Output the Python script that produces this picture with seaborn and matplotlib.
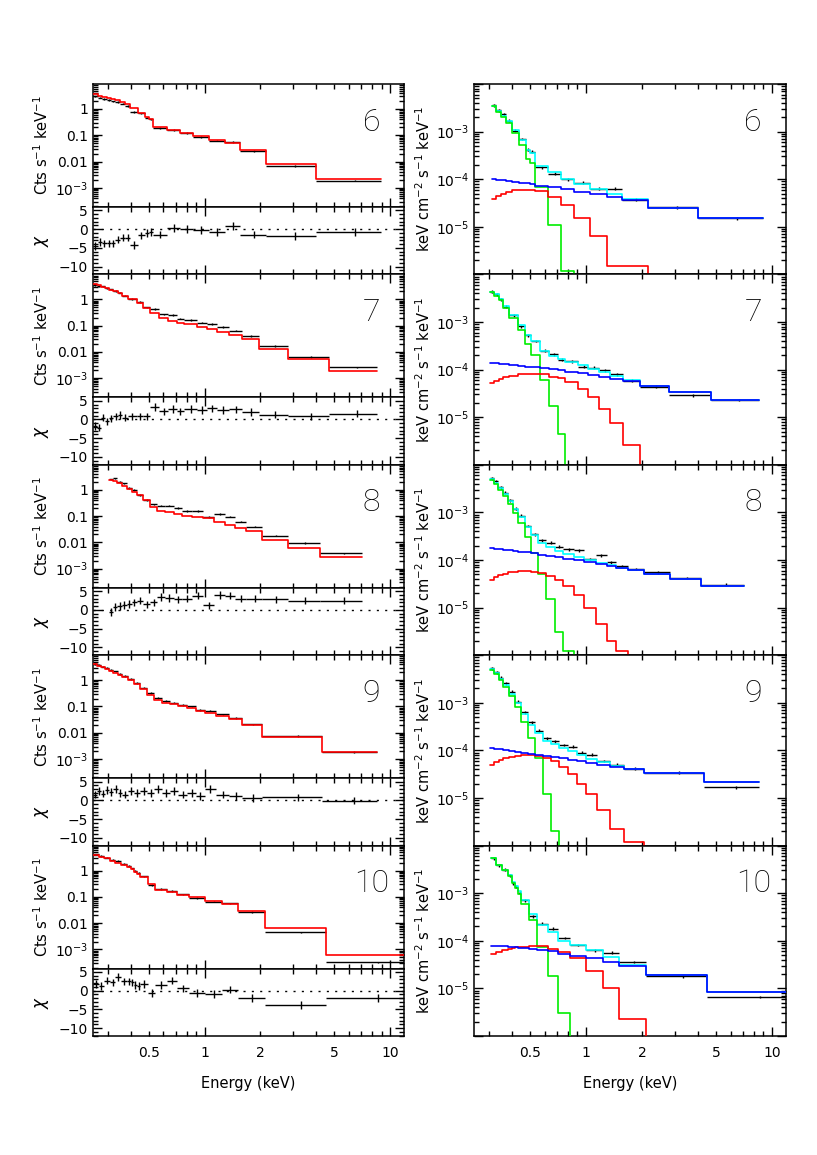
import numpy as np
import matplotlib
matplotlib.use("Agg")
import matplotlib.pyplot as plt
import seaborn as sns
from matplotlib.ticker import FixedLocator, FuncFormatter, NullFormatter, MultipleLocator

sns.set_theme(style="ticks")
plt.rcParams['font.family'] = ['DejaVu Sans']
plt.rcParams['mathtext.fontset'] = 'dejavusans'
plt.rcParams.update({'text.color': 'black', 'axes.labelcolor': 'black',
                     'xtick.color': 'black', 'ytick.color': 'black',
                     'axes.edgecolor': 'black'})

# ---------------- panel 6 ----------------
edges_6 = [0.25, 0.265, 0.28, 0.296, 0.312, 0.33, 0.35, 0.372, 0.398, 0.436, 0.474, 0.50,
           0.53, 0.626, 0.733, 0.866, 1.05, 1.29, 1.56, 2.15, 4.01, 8.9]
cts_6 = [3.0, 2.7, 2.4, 2.2, 1.95, 1.8, 1.6, 1.3, 0.78, 0.68, 0.47, 0.4, 0.19, 0.16, 0.12,
         0.088, 0.063, 0.057, 0.025, 0.0068, 0.0019]
mod_6 = [3.6, 3.2, 2.9, 2.6, 2.3, 2.1, 1.85, 1.5, 1.07, 0.73, 0.5, 0.42, 0.21, 0.16, 0.12,
         0.09, 0.067, 0.053, 0.028, 0.0079, 0.0022]
chi_6 = [-4.5, -3.5, -3.8, -3.8, -3.8, -2.8, -2.3, -2.3, -4.3, -1.7, -1.0, -0.8, -1.5, 0.3,
         0.0, -0.2, -0.8, 0.8, -1.5, -1.8, -0.8]
uf_start_6 = 4
uf_6 = [3.6e-3, 2.8e-3, 2.3e-3, 1.7e-3, 1.05e-3, 7.0e-4, 4.2e-4, 3.8e-4, 1.8e-4, 1.3e-4,
        1.0e-4, 8.5e-5, 6.3e-5, 6.3e-5, 3.7e-5, 2.6e-5, 1.5e-5]
tot_6 = [3.5e-3, 2.75e-3, 2.15e-3, 1.65e-3, 1.07e-3, 6.6e-4, 4.2e-4, 3.6e-4, 1.9e-4, 1.4e-4,
         1.0e-4, 8.1e-5, 6.3e-5, 4.8e-5, 3.8e-5, 2.5e-5, 1.5e-5]
bb_6 = [3.4e-3, 2.6e-3, 2.0e-3, 1.5e-3, 9.2e-4, 5.2e-4, 2.6e-4, 2.2e-4, 6.8e-5, 1.07e-5,
        1.2e-6, 1e-9, 1e-9, 1e-9, 1e-9, 1e-9, 1e-9]
red_6 = [3.9e-5, 4.4e-5, 4.9e-5, 5.4e-5, 5.8e-5, 6.0e-5, 6.0e-5, 5.9e-5, 5.7e-5, 4.2e-5,
         2.9e-5, 1.5e-5, 6.4e-6, 1.5e-6, 1.5e-6, 1e-9, 1e-9]
pl_6 = [9.9e-5, 9.7e-5, 9.5e-5, 9.2e-5, 8.9e-5, 8.5e-5, 8.2e-5, 7.9e-5, 7.3e-5, 6.9e-5,
        6.2e-5, 5.5e-5, 4.8e-5, 4.3e-5, 3.7e-5, 2.5e-5, 1.5e-5]

# ---------------- panel 7 ----------------
edges_7 = [0.25, 0.262, 0.276, 0.29, 0.305, 0.322, 0.34, 0.36, 0.385, 0.431, 0.468, 0.509,
           0.569, 0.634, 0.71, 0.77, 0.91, 1.03, 1.17, 1.35, 1.59, 1.96, 2.81, 4.68, 8.54]
cts_7 = [3.6, 3.2, 3.1, 2.6, 2.4, 2.1, 1.8, 1.4, 1.05, 0.8, 0.5, 0.42, 0.27, 0.25, 0.185,
         0.166, 0.13, 0.116, 0.087, 0.065, 0.04, 0.0165, 0.0063, 0.0026]
mod_7 = [3.8, 3.4, 3.05, 2.7, 2.35, 2.0, 1.7, 1.35, 1.0, 0.74, 0.46, 0.30, 0.19, 0.15, 0.13,
         0.12, 0.092, 0.077, 0.059, 0.045, 0.031, 0.0126, 0.0054, 0.0019]
chi_7 = [-1.8, -2.2, 0.5, -0.5, 0.3, 0.8, 1.2, 0.5, 0.8, 0.8, 0.8, 3.3, 2.2, 2.8, 2.2, 2.8,
         2.5, 3.0, 2.6, 2.7, 2.0, 1.3, 0.8, 1.6]
uf_start_7 = 4
uf_7 = [4.3e-3, 3.8e-3, 3.0e-3, 2.1e-3, 1.4e-3, 8.2e-4, 5.3e-4, 4.0e-4, 2.5e-4, 2.1e-4,
        1.6e-4, 1.5e-4, 1.15e-4, 1.1e-4, 9.7e-5, 8.0e-5, 5.8e-5, 4.4e-5, 2.9e-5, 2.3e-5]
tot_7 = [4.3e-3, 3.8e-3, 3.0e-3, 2.2e-3, 1.4e-3, 8.7e-4, 5.4e-4, 3.9e-4, 2.5e-4, 1.9e-4,
         1.7e-4, 1.45e-4, 1.25e-4, 1.05e-4, 8.8e-5, 7.5e-5, 6.0e-5, 4.5e-5, 3.4e-5, 2.3e-5]
bb_7 = [4.2e-3, 3.6e-3, 2.9e-3, 2.0e-3, 1.2e-3, 6.7e-4, 3.5e-4, 2.0e-4, 6.0e-5, 1.7e-5,
        4.4e-6, 1e-9, 1e-9, 1e-9, 1e-9, 1e-9, 1e-9, 1e-9, 1e-9, 1e-9]
red_7 = [5.2e-5, 5.8e-5, 6.4e-5, 7.0e-5, 7.5e-5, 7.9e-5, 8.0e-5, 7.9e-5, 7.9e-5, 7.1e-5,
         6.8e-5, 5.5e-5, 4.0e-5, 2.7e-5, 1.5e-5, 7.4e-6, 2.6e-6, 1e-9, 1e-9, 1e-9]
pl_7 = [1.38e-4, 1.35e-4, 1.32e-4, 1.28e-4, 1.22e-4, 1.18e-4, 1.15e-4, 1.12e-4, 1.08e-4,
        1.03e-4, 1.0e-4, 8.8e-5, 8.3e-5, 7.6e-5, 7.1e-5, 6.5e-5, 5.8e-5, 4.5e-5, 3.4e-5, 2.3e-5]

# ---------------- panel 8 ----------------
edges_8 = [0.306, 0.32, 0.338, 0.358, 0.38, 0.405, 0.431, 0.468, 0.509, 0.553, 0.613, 0.68,
           0.755, 0.86, 0.98, 1.13, 1.29, 1.45, 1.68, 2.04, 2.82, 4.17, 7.1]
cts_8 = [2.5, 2.7, 2.0, 1.75, 1.15, 0.98, 0.63, 0.41, 0.28, 0.25, 0.25, 0.2, 0.16, 0.16,
         0.09, 0.12, 0.095, 0.062, 0.04, 0.018, 0.0093, 0.0038]
mod_8 = [2.35, 2.1, 1.75, 1.4, 1.05, 0.85, 0.62, 0.40, 0.23, 0.16, 0.14, 0.125, 0.105, 0.095,
         0.083, 0.058, 0.046, 0.036, 0.026, 0.0124, 0.0060, 0.0027]
chi_8 = [-0.5, 0.8, 1.0, 1.3, 1.6, 2.0, 2.5, 1.5, 2.0, 3.5, 3.2, 2.8, 3.0, 3.8, 1.2, 4.0,
         3.8, 3.0, 3.0, 2.8, 2.5, 2.5]
uf_start_8 = 0
uf_8 = [5.2e-3, 4.5e-3, 3.4e-3, 2.6e-3, 1.8e-3, 1.2e-3, 8.5e-4, 5.2e-4, 3.5e-4, 2.6e-4,
        2.3e-4, 1.9e-4, 1.7e-4, 1.6e-4, 1.05e-4, 1.25e-4, 9.0e-5, 7.5e-5, 6.5e-5, 5.5e-5,
        4.2e-5, 3.0e-5]
tot_8 = [5.0e-3, 4.2e-3, 3.2e-3, 2.4e-3, 1.7e-3, 1.16e-3, 8.1e-4, 5.0e-4, 3.4e-4, 2.3e-4,
         1.85e-4, 1.55e-4, 1.35e-4, 1.15e-4, 1.0e-4, 8.7e-5, 7.7e-5, 6.9e-5, 6.2e-5, 5.2e-5,
         4.0e-5, 2.9e-5]
bb_8 = [4.8e-3, 4.0e-3, 3.0e-3, 2.2e-3, 1.5e-3, 9.5e-4, 6.0e-4, 3.0e-4, 1.4e-4, 5.0e-5,
        1.5e-5, 3e-6, 1.2e-6, 1e-9, 1e-9, 1e-9, 1e-9, 1e-9, 1e-9, 1e-9, 1e-9, 1e-9]
red_8 = [3.8e-5, 4.3e-5, 4.8e-5, 5.2e-5, 5.5e-5, 5.7e-5, 5.8e-5, 5.8e-5, 5.7e-5, 5.3e-5,
         4.6e-5, 3.8e-5, 2.8e-5, 1.8e-5, 1.0e-5, 4.5e-6, 2.0e-6, 1.2e-6, 1e-9, 1e-9, 1e-9, 1e-9]
pl_8 = [1.75e-4, 1.72e-4, 1.68e-4, 1.64e-4, 1.6e-4, 1.55e-4, 1.5e-4, 1.45e-4, 1.38e-4,
        1.3e-4, 1.22e-4, 1.15e-4, 1.07e-4, 9.8e-5, 9.0e-5, 8.2e-5, 7.5e-5, 6.8e-5, 6.2e-5,
        5.2e-5, 4.0e-5, 2.9e-5]

# ---------------- panel 9 ----------------
edges_9 = [0.25, 0.262, 0.276, 0.29, 0.305, 0.322, 0.34, 0.36, 0.385, 0.415, 0.45, 0.49,
           0.535, 0.59, 0.65, 0.72, 0.8, 0.9, 1.0, 1.15, 1.35, 1.6, 2.05, 4.3, 8.5]
cts_9 = [4.2, 3.8, 3.3, 3.0, 2.5, 2.15, 1.75, 1.45, 1.1, 0.78, 0.52, 0.32, 0.21, 0.16, 0.14,
         0.115, 0.10, 0.075, 0.07, 0.05, 0.036, 0.021, 0.0075, 0.0019]
mod_9 = [4.0, 3.5, 3.1, 2.7, 2.3, 1.95, 1.6, 1.3, 1.0, 0.7, 0.45, 0.27, 0.18, 0.14, 0.12,
         0.10, 0.085, 0.07, 0.058, 0.045, 0.033, 0.02, 0.0068, 0.0019]
chi_9 = [1.5, 2.5, 1.8, 2.8, 2.2, 3.0, 2.0, 1.5, 2.5, 2.0, 2.5, 2.0, 3.0, 2.0, 2.5, 1.5,
         2.0, 1.2, 3.0, 1.5, 1.2, 0.6, 0.8, -0.1]
uf_start_9 = 4
uf_9 = [5.3e-3, 4.4e-3, 3.4e-3, 2.6e-3, 1.7e-3, 1.05e-3, 6.3e-4, 3.9e-4, 2.6e-4, 1.8e-4,
        1.55e-4, 1.3e-4, 1.2e-4, 9e-5, 8.2e-5, 6.0e-5, 5.0e-5, 4.1e-5, 3.4e-5, 1.7e-5]
tot_9 = [5.2e-3, 4.2e-3, 3.2e-3, 2.4e-3, 1.55e-3, 9.7e-4, 5.7e-4, 3.5e-4, 2.3e-4, 1.6e-4,
         1.35e-4, 1.13e-4, 9.5e-5, 7.9e-5, 6.7e-5, 5.6e-5, 4.7e-5, 4.1e-5, 3.4e-5, 2.2e-5]
bb_9 = [5.0e-3, 4.0e-3, 3.0e-3, 2.2e-3, 1.4e-3, 8.0e-4, 4.0e-4, 1.8e-4, 7e-5, 1.2e-5,
        2.0e-6, 1e-9, 1e-9, 1e-9, 1e-9, 1e-9, 1e-9, 1e-9, 1e-9, 1e-9]
red_9 = [5.0e-5, 5.7e-5, 6.3e-5, 6.9e-5, 7.4e-5, 7.8e-5, 8.0e-5, 8.0e-5, 7.8e-5, 7.0e-5,
         6.0e-5, 4.5e-5, 3.2e-5, 2.0e-5, 1.2e-5, 5.5e-6, 2.2e-6, 1.2e-6, 1e-9, 1e-9]
pl_9 = [1.1e-4, 1.08e-4, 1.05e-4, 1.02e-4, 9.8e-5, 9.4e-5, 9.0e-5, 8.6e-5, 8.2e-5, 7.8e-5,
        7.3e-5, 6.8e-5, 6.3e-5, 5.9e-5, 5.5e-5, 5.0e-5, 4.5e-5, 4.0e-5, 3.4e-5, 2.2e-5]

# ---------------- panel 10 ----------------
edges_10 = [0.25, 0.268, 0.285, 0.31, 0.33, 0.355, 0.38, 0.40, 0.415, 0.43, 0.45, 0.495,
            0.543, 0.623, 0.711, 0.823, 1.0, 1.24, 1.51, 2.11, 4.5, 12.7]
cts_10 = [4.1, 3.5, 3.1, 2.6, 2.3, 1.8, 1.5, 1.2, 0.95, 0.8, 0.6, 0.29, 0.2, 0.165, 0.125,
          0.092, 0.066, 0.056, 0.026, 0.0045, 0.00032]
mod_10 = [3.9, 3.4, 2.9, 2.4, 2.0, 1.65, 1.35, 1.1, 0.9, 0.75, 0.55, 0.30, 0.19, 0.15, 0.12,
          0.095, 0.07, 0.055, 0.03, 0.0065, 0.00062]
chi_10 = [1.8, 1.3, 2.7, 2.2, 3.6, 2.5, 2.5, 2.2, 1.5, 1.3, 1.8, -0.6, 1.5, 2.7, 0.6, -0.6,
          -0.9, 0.3, -2.0, -3.8, -2.0]
uf_start_10 = 3
uf_10 = [5.4e-3, 3.9e-3, 3.1e-3, 2.4e-3, 1.6e-3, 1.36e-3, 1.02e-3, 7.1e-4, 3.3e-4, 2.3e-4,
         1.8e-4, 1.15e-4, 8.2e-5, 6.3e-5, 5.6e-5, 3.6e-5, 1.8e-5, 6.6e-6]
tot_10 = [5.5e-3, 4.0e-3, 3.1e-3, 2.45e-3, 1.75e-3, 1.45e-3, 1.1e-3, 7.2e-4, 3.6e-4, 2.2e-4,
          1.5e-4, 1.0e-4, 8.0e-5, 6.4e-5, 4.6e-5, 3.1e-5, 1.9e-5, 8.3e-6]
bb_10 = [5.4e-3, 3.9e-3, 3.0e-3, 2.3e-3, 1.6e-3, 1.3e-3, 9.5e-4, 6.0e-4, 2.7e-4, 7.4e-5,
         1.8e-5, 3.1e-6, 1e-9, 1e-9, 1e-9, 1e-9, 1e-9, 1e-9]
red_10 = [5.3e-5, 5.8e-5, 6.3e-5, 6.8e-5, 7.1e-5, 7.3e-5, 7.4e-5, 7.5e-5, 7.6e-5, 7.6e-5,
          6.6e-5, 5.9e-5, 4.3e-5, 2.3e-5, 1.0e-5, 2.3e-6, 1e-9, 1e-9]
pl_10 = [7.8e-5, 7.7e-5, 7.6e-5, 7.5e-5, 7.4e-5, 7.3e-5, 7.2e-5, 7.0e-5, 6.8e-5, 6.5e-5,
         6.1e-5, 5.4e-5, 4.8e-5, 4.3e-5, 3.6e-5, 2.9e-5, 1.9e-5, 8.3e-6]

panel_ids = [6, 7, 8, 9, 10]
all_edges = [edges_6, edges_7, edges_8, edges_9, edges_10]
all_cts = [cts_6, cts_7, cts_8, cts_9, cts_10]
all_mod = [mod_6, mod_7, mod_8, mod_9, mod_10]
all_chi = [chi_6, chi_7, chi_8, chi_9, chi_10]
all_start = [uf_start_6, uf_start_7, uf_start_8, uf_start_9, uf_start_10]
all_uf = [uf_6, uf_7, uf_8, uf_9, uf_10]
all_tot = [tot_6, tot_7, tot_8, tot_9, tot_10]
all_bb = [bb_6, bb_7, bb_8, bb_9, bb_10]
all_red = [red_6, red_7, red_8, red_9, red_10]
all_pl = [pl_6, pl_7, pl_8, pl_9, pl_10]

rel_err = 0.07   # size of the little vertical error bars on the spectra

W, H = 817, 1155
fig = plt.figure(figsize=(W / 100, H / 100), dpi=100)


def add_ax(x, y, w, h):
    return fig.add_axes([x / W, 1 - (y + h) / H, w / W, h / H])


def stairs(ax, edges, vals, color, lw=1.2, z=3):
    xs = list(edges)
    ys = list(vals) + [vals[-1]]
    sns.lineplot(x=xs, y=ys, drawstyle='steps-post', color=color, lw=lw, ax=ax,
                 estimator=None, sort=False, zorder=z)


def crosses(ax, edges, vals, yerr):
    e = np.asarray(edges)
    lo, hi = e[:-1], e[1:]
    xc = (lo + hi) / 2
    ax.errorbar(xc, vals, xerr=[xc - lo, hi - xc], yerr=yerr, fmt='none',
                ecolor='black', elinewidth=1.0, capsize=0, zorder=2)


minor_e = [0.3, 0.4, 0.5, 0.6, 0.7, 0.8, 0.9, 2, 3, 4, 5, 6, 7, 8, 9]


def energy_axis(ax, show):
    ax.set_xscale('log')
    ax.set_xlim(0.25, 11.9)
    ax.xaxis.set_major_locator(FixedLocator([1, 10]))
    ax.xaxis.set_minor_locator(FixedLocator(minor_e))
    if show:
        ax.xaxis.set_major_formatter(FuncFormatter(lambda v, p: f'{v:g}'))
        ax.xaxis.set_minor_formatter(FuncFormatter(
            lambda v, p: f'{v:g}' if any(np.isclose(v, t) for t in (0.5, 2, 5)) else ''))
        ax.tick_params(axis='x', which='both', labelbottom=True, pad=7)
    else:
        ax.xaxis.set_major_formatter(NullFormatter())
        ax.xaxis.set_minor_formatter(NullFormatter())


def log_y(ax, lo, hi, names):
    ax.set_yscale('log')
    ax.set_ylim(lo, hi)
    decs = [10.0 ** k for k in range(-7, 2)]
    ax.yaxis.set_major_locator(FixedLocator(decs))
    ax.yaxis.set_minor_locator(FixedLocator([m * d for d in decs for m in range(2, 10)]))
    ax.yaxis.set_major_formatter(FuncFormatter(lambda v, p: names.get(int(round(np.log10(v))), '')))
    ax.yaxis.set_minor_formatter(NullFormatter())


def frame(ax):
    ax.tick_params(which='both', direction='in', top=True, right=True, labelsize=10,
                   width=1.0, colors='black')
    ax.tick_params(which='major', length=6.5)
    ax.tick_params(which='minor', length=3.5)
    ax.tick_params(axis='y', pad=3.5)
    for s in ax.spines.values():
        s.set_linewidth(1.1)
        s.set_color('black')
    ax.set_facecolor('white')


left_names = {0: '1', -1: '0.1', -2: '0.01', -3: r'$10^{-3}$'}
right_names = {-3: r'$10^{-3}$', -4: r'$10^{-4}$', -5: r'$10^{-5}$'}
num_font = dict(fontsize=23, family=['Roboto', 'DejaVu Sans'], fontweight='light', color='black')

row_h = 190.4
for r, pid in enumerate(panel_ids):
    top = 84 + row_h * r
    last = r == len(panel_ids) - 1
    edges = all_edges[r]
    redges = edges[all_start[r]:]

    # --- counts spectrum ---
    ax = add_ax(93, top, 311, 123)
    ax.set_xscale('log')
    ax.set_yscale('log')
    crosses(ax, edges, all_cts[r], np.asarray(all_cts[r]) * rel_err)
    stairs(ax, edges, all_mod[r], 'red')
    energy_axis(ax, False)
    log_y(ax, 1.87e-4, 8.9, left_names)
    frame(ax)
    ax.set_xlabel('')
    ax.set_ylabel(r'Cts s$^{-1}$ keV$^{-1}$', fontsize=10.5, color='black')
    ax.yaxis.set_label_coords(-0.135, 0.5)
    ax.text(0.895, 0.69, str(pid), transform=ax.transAxes, ha='center', va='center', **num_font)

    # --- residuals ---
    axr = add_ax(93, top + 123, 311, row_h - 123)
    axr.set_xscale('log')
    crosses(axr, edges, all_chi[r], 1.0)
    axr.axhline(0, color='black', lw=1.0, ls=(0, (1.5, 4.5)), zorder=1)
    energy_axis(axr, last)
    axr.set_ylim(-12.1, 5.9)
    axr.yaxis.set_major_locator(FixedLocator([-10, -5, 0, 5]))
    axr.yaxis.set_minor_locator(MultipleLocator(1))
    axr.yaxis.set_major_formatter(FuncFormatter(lambda v, p: f'{v:g}'.replace('-', '\u2212')))
    frame(axr)
    axr.set_ylabel(r'$\chi$', fontsize=12, color='black')
    axr.yaxis.set_label_coords(-0.135, 0.5)
    if last:
        axr.set_xlabel('Energy (keV)', fontsize=10.5, color='black')
        axr.xaxis.set_label_coords(0.5, -0.6)
    else:
        axr.set_xlabel('')

    # --- unfolded spectrum with components ---
    axu = add_ax(474, top, 312, row_h)
    axu.set_xscale('log')
    axu.set_yscale('log')
    crosses(axu, redges, all_uf[r], np.asarray(all_uf[r]) * rel_err)
    stairs(axu, redges, all_tot[r], '#00ffff', z=3)
    stairs(axu, redges, all_bb[r], '#00ee00', z=4)
    stairs(axu, redges, all_red[r], 'red', z=5)
    stairs(axu, redges, all_pl[r], 'blue', z=6)
    energy_axis(axu, last)
    log_y(axu, 1e-6, 1e-2, right_names)
    frame(axu)
    axu.set_ylabel(r'keV cm$^{-2}$ s$^{-1}$ keV$^{-1}$', fontsize=10.5, color='black')
    axu.yaxis.set_label_coords(-0.131, 0.5)
    if last:
        axu.set_xlabel('Energy (keV)', fontsize=10.5, color='black')
        axu.xaxis.set_label_coords(0.5, -0.21)
    else:
        axu.set_xlabel('')
    axu.text(0.895, 0.8, str(pid), transform=axu.transAxes, ha='center', va='center', **num_font)

fig.savefig('out.png', dpi=100, facecolor='white')
